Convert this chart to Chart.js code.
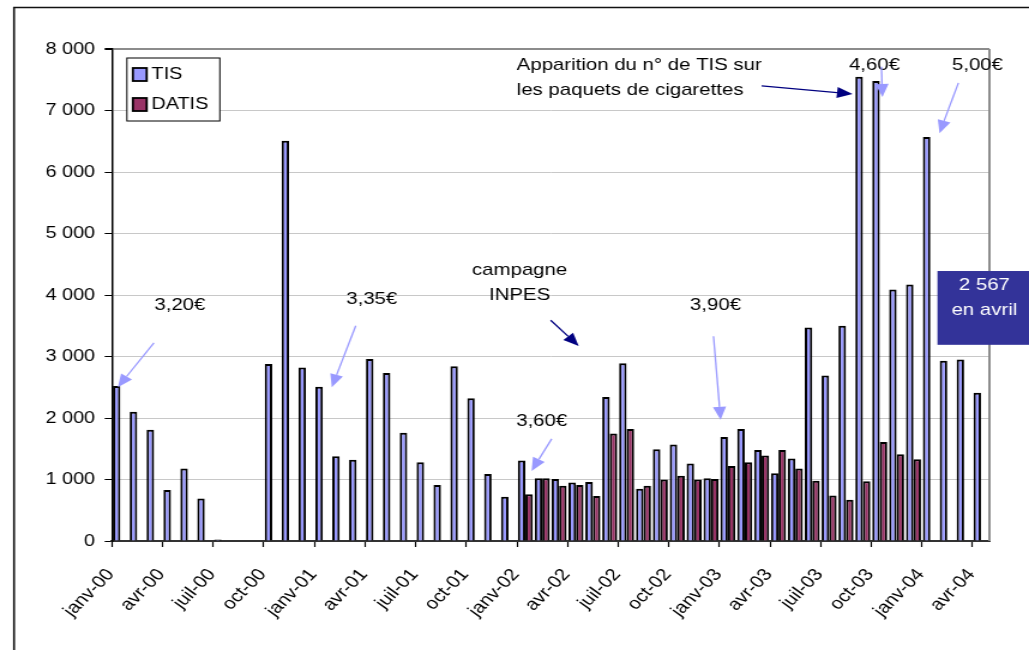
<!DOCTYPE html>
<html>
<head>
<meta charset="utf-8">
<script src="https://cdn.jsdelivr.net/npm/chart.js@4/dist/chart.umd.min.js"></script>
<style>
  html, body { margin: 0; padding: 0; background: #fff; }
</style>
</head>
<body>
<!-- drawn at 858 wide and shown at 1029: the original chart is stretched sideways -->
<canvas id="chart" width="858" height="650" style="width:1029px;height:650px;display:block"></canvas>
<script>
const months = [
  'janv-00', 'févr-00', 'mars-00', 'avr-00', 'mai-00', 'juin-00', 'juil-00', 'août-00', 'sept-00', 'oct-00', 'nov-00', 'déc-00',
  'janv-01', 'févr-01', 'mars-01', 'avr-01', 'mai-01', 'juin-01', 'juil-01', 'août-01', 'sept-01', 'oct-01', 'nov-01', 'déc-01',
  'janv-02', 'févr-02', 'mars-02', 'avr-02', 'mai-02', 'juin-02', 'juil-02', 'août-02', 'sept-02', 'oct-02', 'nov-02', 'déc-02',
  'janv-03', 'févr-03', 'mars-03', 'avr-03', 'mai-03', 'juin-03', 'juil-03', 'août-03', 'sept-03', 'oct-03', 'nov-03', 'déc-03',
  'janv-04', 'févr-04', 'mars-04', 'avr-04'
];

const tis = [
  2520, 2100, 1810, 830, 1180, 690, 25, null, null, 2880, 6510, 2820,
  2510, 1380, 1320, 2960, 2730, 1760, 1280, 910, 2840, 2320, 1090, 720,
  1310, 1020, 1010, 950, 960, 2340, 2890, 850, 1490, 1570, 1260, 1020,
  1690, 1820, 1480, 1100, 1340, 3470, 2690, 3500, 7550, 7480, 4090, 4170,
  6570, 2930, 2950, 2410
];

const datis = [
  null, null, null, null, null, null, null, null, null, null, null, null,
  null, null, null, null, null, null, null, null, null, null, null, null,
  760, 1020, 900, 910, 730, 1750, 1820, 900, 1000, 1060, 1000, 1010,
  1220, 1280, 1390, 1480, 1180, 980, 740, 670, 970, 1610, 1410, 1330,
  null, null, null, null
];

const yTicks = [0, 1000, 2000, 3000, 4000, 5000, 6000, 7000, 8000];

// notes: x is a month index (can be fractional), y a value on the axis
const notes = [
  { lines: ['3,20€'], x: 3.53, y: 3840 },
  { lines: ['3,35€'], x: 14.9, y: 3930 },
  { lines: ['campagne', 'INPES'], x: 23.66, y: 4200 },
  { lines: ['3,60€'], x: 24.97, y: 1950 },
  { lines: ['3,90€'], x: 35.27, y: 3840 },
  { lines: ['Apparition du n° de TIS sur', 'les paquets de cigarettes'], x: 23.49, y: 7530, left: true },
  { lines: ['4,60€'], x: 44.69, y: 7740 },
  { lines: ['5,00€'], x: 50.79, y: 7740 }
];

const arrows = [
  { from: [1.99, 3220], to: [-0.15, 2500], dark: false },
  { from: [13.95, 3500], to: [12.53, 2500], dark: false },
  { from: [25.5, 3590], to: [27.16, 3170], dark: true },
  { from: [25.56, 1660], to: [24.37, 1140], dark: false },
  { from: [35.15, 3330], to: [35.57, 1970], dark: false },
  { from: [38.0, 7400], to: [43.39, 7270], dark: true },
  { from: [45.1, 7710], to: [45.16, 7220], dark: false },
  { from: [49.66, 7450], to: [48.54, 6630], dark: false }
];

const aprilBox = { lines: ['2 567', 'en avril'], x0: 48.42, x1: 53.9, y0: 4390, y1: 3190, tx: 51.2, ty: 3960 };

const FONT = '"Liberation Sans", Arial, sans-serif';
const LIGHT = '#9999FF';
const NAVY = '#000080';

function fmt(v) {
  return String(v).replace(/\B(?=(\d{3})+(?!\d))/g, ' ');
}

function drawArrow(ctx, x1, y1, x2, y2, color) {
  const ang = Math.atan2(y2 - y1, x2 - x1);
  const len = 13, half = 5.5;
  const bx = x2 - len * Math.cos(ang), by = y2 - len * Math.sin(ang);
  ctx.strokeStyle = color;
  ctx.fillStyle = color;
  ctx.lineWidth = 1.3;
  ctx.beginPath();
  ctx.moveTo(x1, y1);
  ctx.lineTo(bx, by);
  ctx.stroke();
  ctx.beginPath();
  ctx.moveTo(x2, y2);
  ctx.lineTo(bx + half * Math.sin(ang), by - half * Math.cos(ang));
  ctx.lineTo(bx - half * Math.sin(ang), by + half * Math.cos(ang));
  ctx.closePath();
  ctx.fill();
}

const extras = {
  id: 'extras',
  afterDraw(chart) {
    const { ctx, chartArea: area, scales } = chart;
    const xs = scales.x, ys = scales.y;
    ctx.save();

    // outer frame of the pasted chart
    ctx.strokeStyle = '#111';
    ctx.lineWidth = 1.6;
    ctx.beginPath();
    ctx.moveTo(11.7, 650);
    ctx.lineTo(11.7, 7.5);
    ctx.lineTo(chart.width, 7.5);
    ctx.stroke();

    // plot area border on the right
    ctx.strokeStyle = '#8c8c8c';
    ctx.lineWidth = 2;
    ctx.beginPath();
    ctx.moveTo(area.right, area.top);
    ctx.lineTo(area.right, area.bottom);
    ctx.stroke();

    // legend
    const lx = area.left + 12.5, ly = area.top + 9;
    ctx.fillStyle = '#fff';
    ctx.fillRect(lx, ly, 77.5, 63);
    ctx.strokeStyle = '#000';
    ctx.lineWidth = 1;
    ctx.strokeRect(lx, ly, 77.5, 63);
    ctx.font = '16.5px ' + FONT;
    ctx.textAlign = 'left';
    ctx.textBaseline = 'middle';
    chart.data.datasets.forEach((ds, i) => {
      const sy = ly + 10 + i * 30;
      ctx.fillStyle = ds.backgroundColor;
      ctx.fillRect(lx + 5, sy, 11.5, 13);
      ctx.lineWidth = 1.8;
      ctx.strokeRect(lx + 5, sy, 11.5, 13);
      ctx.fillStyle = '#000';
      ctx.fillText(ds.label, lx + 20.5, sy + 6.5);
    });

    // notes
    ctx.font = '17px ' + FONT;
    ctx.fillStyle = '#000';
    notes.forEach(n => {
      const px = xs.getPixelForValue(n.x);
      const py = ys.getPixelForValue(n.y);
      ctx.textAlign = n.left ? 'left' : 'center';
      const lh = 25.5;
      n.lines.forEach((t, i) => {
        ctx.fillText(t, px, py + (i - (n.lines.length - 1) / 2) * lh);
      });
    });

    arrows.forEach(a => {
      drawArrow(ctx,
        xs.getPixelForValue(a.from[0]), ys.getPixelForValue(a.from[1]),
        xs.getPixelForValue(a.to[0]), ys.getPixelForValue(a.to[1]),
        a.dark ? NAVY : LIGHT);
    });

    // April value box
    const bx0 = xs.getPixelForValue(aprilBox.x0), bx1 = xs.getPixelForValue(aprilBox.x1);
    const by0 = ys.getPixelForValue(aprilBox.y0), by1 = ys.getPixelForValue(aprilBox.y1);
    ctx.fillStyle = '#333399';
    ctx.fillRect(bx0, by0, bx1 - bx0, by1 - by0);
    ctx.fillStyle = '#fff';
    ctx.textAlign = 'center';
    const tx = xs.getPixelForValue(aprilBox.tx), ty = ys.getPixelForValue(aprilBox.ty);
    ctx.fillText(aprilBox.lines[0], tx, ty - 12.5);
    ctx.fillText(aprilBox.lines[1], tx, ty + 12.5);

    ctx.restore();
  }
};

new Chart(document.getElementById('chart'), {
  type: 'bar',
  data: {
    labels: months,
    datasets: [
      {
        label: 'TIS',
        data: tis,
        backgroundColor: '#9999FF',
        borderColor: '#000',
        borderWidth: 2,
        categoryPercentage: 0.89,
        barPercentage: 1.0
      },
      {
        label: 'DATIS',
        data: datis,
        backgroundColor: '#993366',
        borderColor: '#000',
        borderWidth: 2,
        categoryPercentage: 0.89,
        barPercentage: 1.0
      }
    ]
  },
  options: {
    responsive: false,
    animation: false,
    devicePixelRatio: 1,
    events: [],
    layout: { padding: { top: 49, right: 33, left: 0, bottom: 0 } },
    plugins: {
      legend: { display: false },
      tooltip: { enabled: false },
      title: { display: false }
    },
    scales: {
      x: {
        offset: true,
        afterFit: s => { s.height = 109; },
        border: { color: '#333', width: 2 },
        grid: {
          offset: true,
          drawOnChartArea: false,
          tickLength: 6,
          tickWidth: 1.2,
          tickColor: c => (c.index % 3 === 0 ? '#000' : 'rgba(0,0,0,0)')
        },
        ticks: {
          autoSkip: false,
          minRotation: 50,
          maxRotation: 50,
          padding: 18,
          labelOffset: -8,
          color: '#000',
          font: { family: FONT, size: 17 },
          callback: (v, i) => (i % 3 === 0 ? months[i] : '')
        }
      },
      y: {
        min: yTicks[0],
        max: yTicks[yTicks.length - 1],
        afterFit: s => { s.width = 93.3; },
        afterBuildTicks: s => { s.ticks = yTicks.map(v => ({ value: v })); },
        border: { color: '#000', width: 1.5 },
        grid: {
          color: c => (c.tick && c.tick.value === 8000 ? '#8c8c8c' : '#c8c8c8'),
          lineWidth: c => (c.tick && c.tick.value === 8000 ? 2 : 1),
          tickColor: '#000',
          tickLength: 6
        },
        ticks: {
          padding: 8,
          color: '#000',
          font: { family: FONT, size: 16.5 },
          callback: v => fmt(v)
        }
      }
    }
  },
  plugins: [extras]
});
</script>
</body>
</html>
